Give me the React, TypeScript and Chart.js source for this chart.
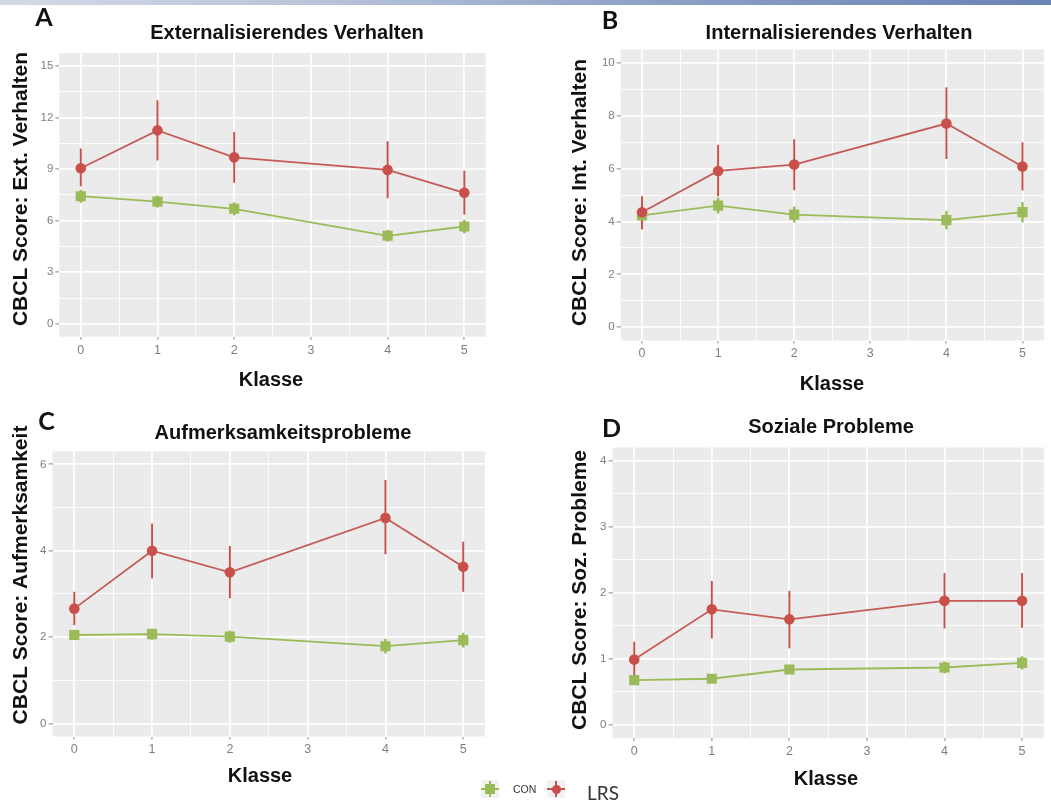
import React, { useEffect, useRef } from 'react';
import { Chart, registerables } from 'chart.js';

Chart.register(...registerables);

// ---------- data ----------
const classes = [0, 1, 2, 4, 5];
const xMajor = [0, 1, 2, 3, 4, 5];
const xMinor = [0.5, 1.5, 2.5, 3.5, 4.5];

// A: Externalisierendes Verhalten
const extYMajor = [0, 3, 6, 9, 12, 15];
const extYMinor = [1.5, 4.5, 7.5, 10.5, 13.5];
const extLrs = [9.05, 11.25, 9.68, 8.95, 7.62];
const extLrsHigh = [10.2, 13.0, 11.15, 10.62, 8.9];
const extLrsLow = [8.0, 9.5, 8.2, 7.3, 6.35];
const extCon = [7.42, 7.11, 6.69, 5.12, 5.66];
const extConHigh = [7.8, 7.46, 7.07, 5.47, 6.06];
const extConLow = [7.04, 6.76, 6.31, 4.77, 5.26];

// B: Internalisierendes Verhalten
const intYMajor = [0, 2, 4, 6, 8, 10];
const intYMinor = [1, 3, 5, 7, 9];
const intLrs = [4.35, 5.91, 6.15, 7.7, 6.08];
const intLrsHigh = [4.95, 6.9, 7.11, 9.07, 6.99];
const intLrsLow = [3.7, 4.95, 5.18, 6.36, 5.17];
const intCon = [4.23, 4.6, 4.26, 4.05, 4.35];
const intConHigh = [4.53, 4.9, 4.56, 4.4, 4.73];
const intConLow = [3.93, 4.3, 3.96, 3.7, 3.97];

// C: Aufmerksamkeitsprobleme
const attYMajor = [0, 2, 4, 6];
const attYMinor = [1, 3, 5];
const attLrs = [2.66, 4.0, 3.5, 4.76, 3.63];
const attLrsHigh = [3.05, 4.63, 4.11, 5.64, 4.21];
const attLrsLow = [2.28, 3.36, 2.9, 3.92, 3.05];
const attCon = [2.05, 2.07, 2.01, 1.79, 1.93];
const attConHigh = [2.17, 2.2, 2.15, 1.96, 2.1];
const attConLow = [1.93, 1.94, 1.87, 1.62, 1.76];

// D: Soziale Probleme
const socYMajor = [0, 1, 2, 3, 4];
const socYMinor = [0.5, 1.5, 2.5, 3.5];
const socLrs = [0.99, 1.75, 1.6, 1.88, 1.88];
const socLrsHigh = [1.26, 2.18, 2.03, 2.3, 2.3];
const socLrsLow = [0.71, 1.31, 1.16, 1.46, 1.47];
const socCon = [0.68, 0.7, 0.84, 0.87, 0.94];
const socConHigh = [0.74, 0.76, 0.91, 0.96, 1.04];
const socConLow = [0.62, 0.64, 0.77, 0.78, 0.84];

// ---------- styles ----------
const RED = '#C94F4A';
const RED_LINE = '#C45B57';
const GREEN = '#9BBB59';
const PANEL_BG = '#EBEBEB';
const TICK_TXT = '#7f7f7f';
const SANS = '"Liberation Sans", Arial, sans-serif';
const X_H = 50;

type Panel = {
  letter: string;
  title: string;
  yTitle: string;
  yMin: number;
  yMax: number;
  yMajor: number[];
  yMinor: number[];
  lrs: number[];
  lrsHigh: number[];
  lrsLow: number[];
  con: number[];
  conHigh: number[];
  conLow: number[];
  box: { left: number; top: number; width: number; height: number };
  area: { l: number; t: number; r: number; b: number };
  letterPos: [number, number];
  titlePos: [number, number];
  yTitlePos: [number, number];
  xTitlePos: [number, number];
};

const panels: Panel[] = [
  {
    letter: 'A', title: 'Externalisierendes Verhalten', yTitle: 'CBCL Score: Ext. Verhalten',
    yMin: -0.75, yMax: 15.75, yMajor: extYMajor, yMinor: extYMinor,
    lrs: extLrs, lrsHigh: extLrsHigh, lrsLow: extLrsLow, con: extCon, conHigh: extConHigh, conLow: extConLow,
    box: { left: 0, top: 0, width: 520, height: 400 },
    area: { l: 59.3, t: 53, r: 485.8, b: 336.7 },
    letterPos: [44, 18], titlePos: [287, 33], yTitlePos: [21.5, 189], xTitlePos: [271, 380],
  },
  {
    letter: 'B', title: 'Internalisierendes Verhalten', yTitle: 'CBCL Score: Int. Verhalten',
    yMin: -0.5, yMax: 10.5, yMajor: intYMajor, yMinor: intYMinor,
    lrs: intLrs, lrsHigh: intLrsHigh, lrsLow: intLrsLow, con: intCon, conHigh: intConHigh, conLow: intConLow,
    box: { left: 520, top: 0, width: 531, height: 400 },
    area: { l: 620.7, t: 49.5, r: 1045.4, b: 340.5 },
    letterPos: [610, 21], titlePos: [839, 33], yTitlePos: [580, 192.5], xTitlePos: [832, 384],
  },
  {
    letter: 'C', title: 'Aufmerksamkeitsprobleme', yTitle: 'CBCL Score: Aufmerksamkeit',
    yMin: -0.3, yMax: 6.3, yMajor: attYMajor, yMinor: attYMinor,
    lrs: attLrs, lrsHigh: attLrsHigh, lrsLow: attLrsLow, con: attCon, conHigh: attConHigh, conLow: attConLow,
    box: { left: 0, top: 400, width: 520, height: 406 },
    area: { l: 52.5, t: 451.4, r: 485, b: 736.5 },
    letterPos: [46.5, 421.5], titlePos: [283, 433], yTitlePos: [21.5, 575], xTitlePos: [260, 776],
  },
  {
    letter: 'D', title: 'Soziale Probleme', yTitle: 'CBCL Score: Soz. Probleme',
    yMin: -0.2, yMax: 4.2, yMajor: socYMajor, yMinor: socYMinor,
    lrs: socLrs, lrsHigh: socLrsHigh, lrsLow: socLrsLow, con: socCon, conHigh: socConHigh, conLow: socConLow,
    box: { left: 520, top: 400, width: 531, height: 406 },
    area: { l: 612.5, t: 447.5, r: 1045.8, b: 738.2 },
    letterPos: [611.5, 429], titlePos: [831, 427], yTitlePos: [580, 590], xTitlePos: [826, 779],
  },
];

const has = (arr: number[], v: number) => arr.some((m) => Math.abs(m - v) < 1e-9);

function PanelChart({ p }: { p: Panel }) {
  const ref = useRef<HTMLCanvasElement>(null);

  useEffect(() => {
    const canvas = ref.current;
    if (!canvas) return;
    const ox = p.box.left;
    const oy = p.box.top;

    const bgPlugin = {
      id: 'panelBg',
      beforeDraw(chart: any) {
        const { ctx, chartArea } = chart;
        ctx.save();
        ctx.fillStyle = PANEL_BG;
        ctx.fillRect(chartArea.left, chartArea.top, chartArea.right - chartArea.left, chartArea.bottom - chartArea.top);
        ctx.restore();
      },
    };

    const errPlugin = {
      id: 'errBars',
      beforeDatasetsDraw(chart: any) {
        const { ctx } = chart;
        const xs = chart.scales.x;
        const ys = chart.scales.y;
        const dsets = chart.data.datasets as any[];
        for (let d = dsets.length - 1; d >= 0; d--) {
          const ds = dsets[d];
          ctx.save();
          ctx.strokeStyle = ds.errColor;
          ctx.lineWidth = ds.errWidth;
          ds.data.forEach((pt: any, i: number) => {
            const x = xs.getPixelForValue(pt.x);
            ctx.beginPath();
            ctx.moveTo(x, ys.getPixelForValue(ds.errLow[i]));
            ctx.lineTo(x, ys.getPixelForValue(ds.errHigh[i]));
            ctx.stroke();
          });
          ctx.restore();
        }
      },
    };

    const textPlugin = {
      id: 'panelText',
      afterDraw(chart: any) {
        const { ctx } = chart;
        const items = [
          { text: p.letter, x: p.letterPos[0], y: p.letterPos[1], font: `bold 25px Lato, ${SANS}`, rot: false },
          { text: p.title, x: p.titlePos[0], y: p.titlePos[1], font: `bold 20px ${SANS}`, rot: false },
          { text: p.yTitle, x: p.yTitlePos[0], y: p.yTitlePos[1], font: `bold 21px ${SANS}`, rot: true },
          { text: 'Klasse', x: p.xTitlePos[0], y: p.xTitlePos[1], font: `bold 20px ${SANS}`, rot: false },
        ];
        items.forEach((it) => {
          ctx.save();
          ctx.font = it.font;
          ctx.fillStyle = '#111111';
          ctx.textAlign = 'center';
          ctx.textBaseline = 'middle';
          ctx.translate(it.x - ox, it.y - oy);
          if (it.rot) ctx.rotate(-Math.PI / 2);
          ctx.fillText(it.text, 0, 0);
          ctx.restore();
        });
      },
    };

    const xTickVals = [...xMajor, ...xMinor].sort((a, b) => a - b);
    const yTickVals = [...p.yMajor, ...p.yMinor].sort((a, b) => a - b);

    const chart = new Chart(canvas, {
      type: 'line',
      data: {
        datasets: [
          {
            label: 'LRS',
            data: classes.map((x, i) => ({ x, y: p.lrs[i] })),
            errLow: p.lrsLow,
            errHigh: p.lrsHigh,
            errColor: RED,
            errWidth: 1.9,
            borderColor: RED_LINE,
            borderWidth: 1.8,
            backgroundColor: RED,
            pointBackgroundColor: RED,
            pointBorderColor: RED,
            pointBorderWidth: 0,
            pointRadius: 5.3,
            pointStyle: 'circle',
            tension: 0,
          } as any,
          {
            label: 'CON',
            data: classes.map((x, i) => ({ x, y: p.con[i] })),
            errLow: p.conLow,
            errHigh: p.conHigh,
            errColor: GREEN,
            errWidth: 2.4,
            borderColor: GREEN,
            borderWidth: 1.8,
            backgroundColor: GREEN,
            pointBackgroundColor: GREEN,
            pointBorderColor: GREEN,
            pointBorderWidth: 0,
            pointRadius: 7.2,
            pointStyle: 'rect',
            tension: 0,
          } as any,
        ],
      },
      options: {
        animation: false,
        responsive: false,
        events: [],
        layout: {
          padding: {
            left: 0,
            top: p.area.t - oy,
            right: ox + p.box.width - p.area.r,
            bottom: oy + p.box.height - p.area.b - X_H,
          },
        },
        plugins: {
          legend: { display: false },
          tooltip: { enabled: false },
          title: { display: false },
        },
        scales: {
          x: {
            type: 'linear',
            min: -0.28,
            max: 5.28,
            afterFit: (s: any) => {
              s.height = X_H;
            },
            afterBuildTicks: (s: any) => {
              s.ticks = xTickVals.map((v) => ({ value: v }));
            },
            ticks: {
              autoSkip: false,
              maxRotation: 0,
              padding: 3,
              color: TICK_TXT,
              font: { family: SANS, size: 12.5 },
              callback: (v: any) => (has(xMajor, Number(v)) ? String(v) : ''),
            },
            grid: {
              color: '#FFFFFF',
              lineWidth: (c: any) => (c.tick && has(xMajor, c.tick.value) ? 1.8 : 0.9),
              tickColor: (c: any) => (c.tick && has(xMajor, c.tick.value) ? '#8a8a8a' : 'rgba(0,0,0,0)'),
              tickLength: 3,
              tickWidth: 1,
              drawTicks: true,
            },
            border: { display: false },
          },
          y: {
            type: 'linear',
            min: p.yMin,
            max: p.yMax,
            afterFit: (s: any) => {
              s.width = p.area.l - ox;
            },
            afterBuildTicks: (s: any) => {
              s.ticks = yTickVals.map((v) => ({ value: v }));
            },
            ticks: {
              autoSkip: false,
              padding: 2,
              color: TICK_TXT,
              font: { family: SANS, size: 11.5 },
              callback: (v: any) => (has(p.yMajor, Number(v)) ? String(v) : ''),
            },
            grid: {
              color: '#FFFFFF',
              lineWidth: (c: any) => (c.tick && has(p.yMajor, c.tick.value) ? 1.8 : 0.9),
              tickColor: (c: any) => (c.tick && has(p.yMajor, c.tick.value) ? '#8a8a8a' : 'rgba(0,0,0,0)'),
              tickLength: 4,
              tickWidth: 1,
              drawTicks: true,
            },
            border: { display: false },
          },
        },
      } as any,
      plugins: [bgPlugin, errPlugin, textPlugin],
    });
    return () => chart.destroy();
  }, [p]);

  return (
    <canvas
      ref={ref}
      width={p.box.width}
      height={p.box.height}
      style={{ position: 'absolute', left: p.box.left, top: p.box.top, width: p.box.width, height: p.box.height }}
    />
  );
}

function LegendKey({ left, color, shape }: { left: number; color: string; shape: 'rect' | 'circle' }) {
  return (
    <div style={{ position: 'absolute', left, top: 780, width: 18, height: 18, background: '#F2F2F2' }}>
      <div style={{ position: 'absolute', left: 0, top: 8.2, width: 18, height: 1.6, background: color }} />
      <div style={{ position: 'absolute', left: 8, top: 1, width: 2, height: 16, background: color }} />
      <div
        style={{
          position: 'absolute',
          left: shape === 'rect' ? 4 : 4.5,
          top: shape === 'rect' ? 4 : 4.5,
          width: shape === 'rect' ? 10 : 9,
          height: shape === 'rect' ? 10 : 9,
          borderRadius: shape === 'rect' ? 0 : '50%',
          background: color,
        }}
      />
    </div>
  );
}

export default function App() {
  return (
    <div style={{ position: 'fixed', left: 0, top: 0, width: 1051, height: 806, background: '#FFFFFF', overflow: 'hidden' }}>
      <div
        style={{
          position: 'absolute',
          left: 0,
          top: 0,
          width: 1051,
          height: 5,
          background: 'linear-gradient(90deg, #d3d9e6 0%, #b9c4da 30%, #8fa3c8 60%, #6a83b5 100%)',
        }}
      />
      {panels.map((p) => (
        <PanelChart key={p.letter} p={p} />
      ))}
      <LegendKey left={481} color={GREEN} shape="rect" />
      <span
        style={{
          position: 'absolute',
          left: 513,
          top: 783,
          font: `10.5px ${SANS}`,
          color: '#333333',
          lineHeight: '12px',
          zIndex: 2,
        }}
      >
        CON
      </span>
      <LegendKey left={547} color={RED} shape="circle" />
      <span
        style={{
          position: 'absolute',
          left: 587,
          top: 781,
          font: `19px Lato, ${SANS}`,
          color: '#333333',
          lineHeight: '23px',
          zIndex: 2,
        }}
      >
        LRS
      </span>
    </div>
  );
}
